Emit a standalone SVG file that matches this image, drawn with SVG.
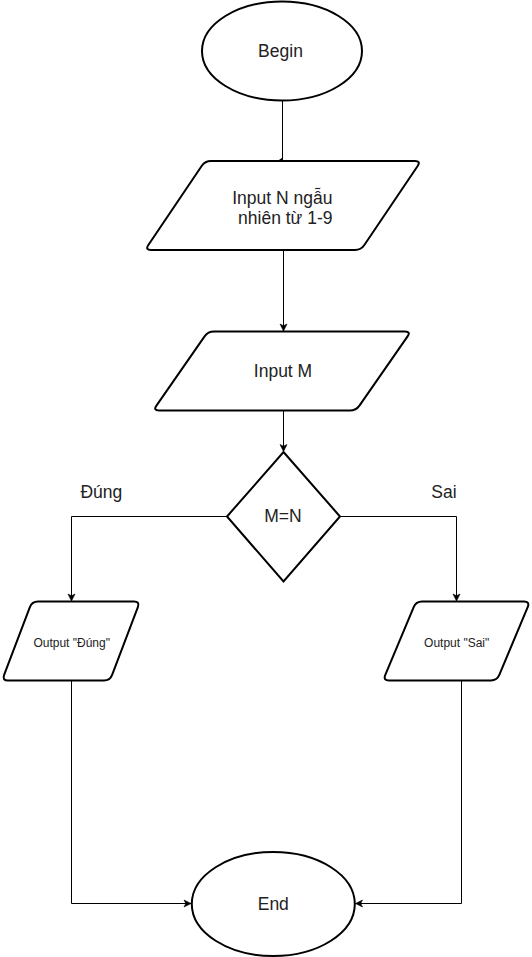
<svg xmlns="http://www.w3.org/2000/svg" width="532" height="957" viewBox="0 0 532 957">
  <style>
    .shape { fill: #ffffff; stroke: #000000; stroke-width: 2; }
    .edge { fill: none; stroke: #000000; stroke-width: 1; }
    .label { font-family: "Liberation Sans", Arial, sans-serif; font-size: 17.5px; fill: #222222; text-anchor: middle; }
    .small { font-size: 12px; }
  </style>
  <defs>
    <marker id="arrow" markerUnits="userSpaceOnUse" viewBox="-8 -5 10 10" markerWidth="10" markerHeight="10" refX="0" refY="0" orient="auto">
      <path d="M-7,-3.5 L0,0 L-7,3.5 L-5.2,0 Z" fill="#000000" stroke="#000000" stroke-width="0.6"/>
    </marker>
  </defs>

  <rect width="532" height="957" fill="#ffffff"/>

  <!-- connectors -->
  <g id="connectors">
    <path class="edge" d="M282.5,100.5 V161"/>
    <polygon points="277.5,161 282.5,157.5 282.5,161" fill="#000000"/>
    <path class="edge" d="M283.5,250.5 V331" marker-end="url(#arrow)"/>
    <path class="edge" d="M283.5,410.5 V451.5" marker-end="url(#arrow)"/>
    <path class="edge" d="M227,516.5 H71.5 V601" marker-end="url(#arrow)"/>
    <path class="edge" d="M340,516.5 H456.5 V601" marker-end="url(#arrow)"/>
    <path class="edge" d="M71.5,680.5 V903.5 H191" marker-end="url(#arrow)"/>
    <path class="edge" d="M461.5,680.5 V903.5 H355.5" marker-end="url(#arrow)"/>
  </g>

  <!-- start terminator -->
  <g id="begin">
    <ellipse class="shape" cx="282" cy="51" rx="80" ry="49.5"/>
    <text class="label" x="280.5" y="57.3">Begin</text>
  </g>

  <!-- random N input -->
  <g id="input-n">
    <path class="shape" d="M211,161 L415,161 Q421,161 417.65,165.98 L364.35,245.02 Q361,250 355,250 L151,250 Q145,250 148.35,245.02 L201.65,165.98 Q205,161 211,161 Z"/>
    <text class="label" x="282.3" y="204">Input N ngẫu</text>
    <text class="label" x="285.3" y="224">nhiên từ 1-9</text>
  </g>

  <!-- user input M -->
  <g id="input-m">
    <path class="shape" d="M214,331.5 L405,331.5 Q411,331.5 407.57,336.42 L359.43,405.58 Q356,410.5 350,410.5 L159,410.5 Q153,410.5 156.43,405.58 L204.57,336.42 Q208,331.5 214,331.5 Z"/>
    <text class="label" x="283" y="377.3">Input M</text>
  </g>

  <!-- comparison -->
  <g id="decision">
    <polygon class="shape" points="283.5,452 340,516.5 283.5,581.5 227,516.5"/>
    <text class="label" x="283" y="522.3">M=N</text>
  </g>

  <!-- branch labels -->
  <g id="branch-labels">
    <text class="label" x="101.4" y="497.5">Đúng</text>
    <text class="label" x="444" y="497.5">Sai</text>
  </g>

  <!-- true output -->
  <g id="output-true">
    <path class="shape" d="M38,601.5 L134,601.5 Q140,601.5 137.87,607.11 L112.13,674.89 Q110,680.5 104,680.5 L8,680.5 Q2,680.5 4.13,674.89 L29.87,607.11 Q32,601.5 38,601.5 Z"/>
    <text class="label small" x="71.7" y="646.5">Output "Đúng"</text>
  </g>

  <!-- false output -->
  <g id="output-false">
    <path class="shape" d="M422,601.5 L524,601.5 Q530,601.5 527.69,607.04 L499.31,674.96 Q497,680.5 491,680.5 L389,680.5 Q383,680.5 385.31,674.96 L413.69,607.04 Q416,601.5 422,601.5 Z"/>
    <text class="label small" x="456.7" y="646.5">Output "Sai"</text>
  </g>

  <!-- end terminator -->
  <g id="end">
    <ellipse class="shape" cx="273.3" cy="904" rx="81.5" ry="52"/>
    <text class="label" x="273.3" y="910">End</text>
  </g>
</svg>
